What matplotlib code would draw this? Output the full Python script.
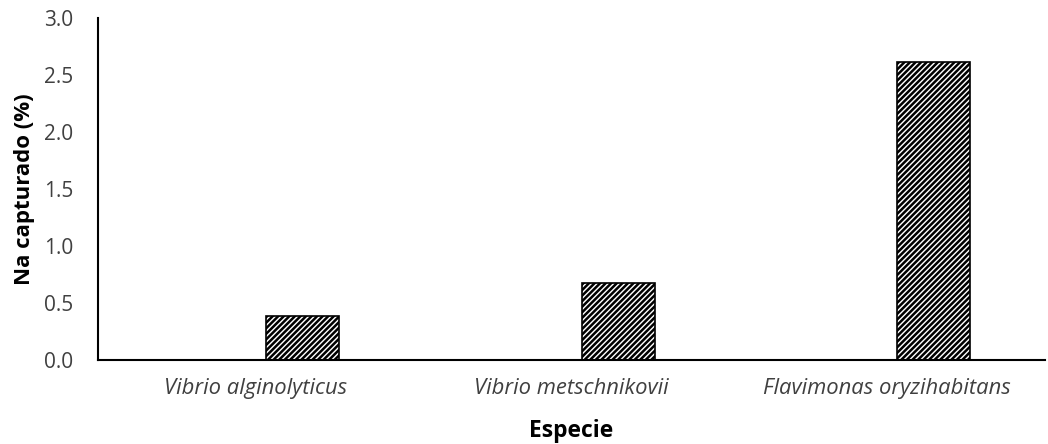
import matplotlib
matplotlib.use('Agg')
import matplotlib.pyplot as plt

especies = ['Vibrio alginolyticus', 'Vibrio metschnikovii', 'Flavimonas oryzihabitans']
na_capturado = [0.39, 0.68, 2.62]

plt.rcParams['font.family'] = ['Open Sans', 'DejaVu Sans']
plt.rcParams['hatch.linewidth'] = 1.8

fig = plt.figure(figsize=(10.48, 4.44), dpi=100)
ax = fig.add_axes([0.0935, 0.189, 0.9035, 0.770])

pos = list(range(len(especies)))
ax.bar([p + 0.148 for p in pos], na_capturado, width=0.231, color='white',
       edgecolor='black', hatch='//////', linewidth=1.2)

ax.set_xlim(-0.5, 2.5)
ax.set_ylim(0, 3.0)
ax.set_yticks([0, 0.5, 1.0, 1.5, 2.0, 2.5, 3.0])
ax.set_yticklabels([f'{v:.1f}' for v in ax.get_yticks()], fontsize=15, color='#404040')
ax.set_xticks(pos)
ax.set_xticklabels(especies, fontsize=15.8, style='italic', color='#404040')
ax.tick_params(axis='y', length=0, pad=18)
ax.tick_params(axis='x', length=0, pad=13)

for s in ['top', 'right']:
    ax.spines[s].set_visible(False)
ax.spines['left'].set_linewidth(1.5)
ax.spines['bottom'].set_linewidth(1.5)

ax.set_xlabel('Especie', fontsize=16.5, fontweight='bold', labelpad=14)
ax.set_ylabel('Na capturado (%)', fontsize=16, fontweight='bold', labelpad=6)

fig.savefig('out.png', dpi=100)
